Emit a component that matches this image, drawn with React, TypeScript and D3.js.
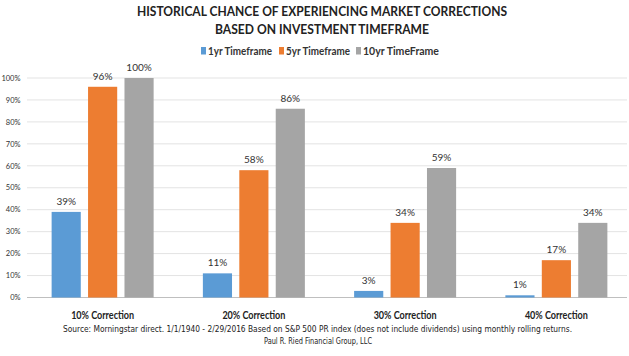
import React from "react";
import * as d3 from "d3";

const categories = ["10% Correction", "20% Correction", "30% Correction", "40% Correction"];
const seriesNames = ["1yr Timeframe", "5yr Timeframe", "10yr TimeFrame"];
const oneYear = [39, 11, 3, 1];
const fiveYear = [96, 58, 34, 17];
const tenYear = [100, 86, 59, 34];
const yTicks = [0, 10, 20, 30, 40, 50, 60, 70, 80, 90, 100];
const titleLines = ["HISTORICAL CHANCE OF EXPERIENCING MARKET CORRECTIONS", "BASED ON INVESTMENT TIMEFRAME"];
const footerLines = [
  "Source: Morningstar direct. 1/1/1940 - 2/29/2016 Based on S&P 500 PR index (does not include dividends) using monthly rolling returns.",
  "Paul R. Ried Financial Group, LLC",
];
const colors = ["#5B9BD5", "#ED7D31", "#A5A5A5"];

const W = 629;
const H = 356;
const FONT = "Lato, 'Open Sans', sans-serif";
const NARROW = "'Liberation Sans Narrow', 'DejaVu Sans Condensed', Lato, sans-serif";

export default function App() {
  const series = [oneYear, fiveYear, tenYear];
  const x0 = d3.scaleBand<string>().domain(categories).range([27, 632]).padding(0);
  const x1 = d3.scaleBand<number>().domain([0, 1, 2]).range([-51, 51]).paddingInner(0.2).paddingOuter(0);
  const y = d3.scaleLinear().domain([0, 100]).range([297.5, 78]);
  const gridLeft = 27;
  const gridRight = 627;

  const legendX = [201, 279, 356];
  const legendTextW = [64, 64, 76];

  return (
    <svg
      width={W}
      height={H}
      style={{ position: "absolute", left: 0, top: 0, background: "#fff" }}
      fontFamily={FONT}
    >
      <rect x={0} y={0} width={W} height={H} fill="#fff" />
      {/* Title */}
      <text x={322} y={16} textAnchor="middle" fontSize={12.5} fontWeight="bold" fill="#222" textLength={370} lengthAdjust="spacingAndGlyphs">
        {titleLines[0]}
      </text>
      <text x={322} y={33.5} textAnchor="middle" fontSize={12.5} fontWeight="bold" fill="#222" textLength={214} lengthAdjust="spacingAndGlyphs">
        {titleLines[1]}
      </text>
      {/* Legend */}
      {seriesNames.map((n, i) => (
        <g key={n}>
          <rect x={legendX[i]} y={47} width={5} height={7.5} fill={colors[i]} />
          <text x={legendX[i] + 7} y={55} fontSize={11} fontWeight="bold" fill="#333" textLength={legendTextW[i]} lengthAdjust="spacingAndGlyphs">
            {n}
          </text>
        </g>
      ))}
      {/* Gridlines & y ticks */}
      {yTicks.map((t) => (
        <g key={t}>
          <line x1={gridLeft} x2={gridRight} y1={y(t)} y2={y(t)} stroke={t === 0 ? "#bfbfbf" : "#e3e3e3"} strokeWidth={1} />
          <text x={20.5} y={y(t) + 2.7} textAnchor="end" fontSize={7.5} fill="#333">
            {t}%
          </text>
        </g>
      ))}
      {/* Bars */}
      {categories.map((c, ci) => {
        const cx = (x0(c) as number) + x0.bandwidth() / 2;
        return (
          <g key={c}>
            {series.map((s, si) => {
              const bx = cx + (x1(si) as number);
              const v = s[ci];
              return (
                <g key={si}>
                  <rect x={bx} y={y(v)} width={x1.bandwidth()} height={y(0) - y(v)} fill={colors[si]} />
                  <text x={bx + x1.bandwidth() / 2} y={y(v) - 7} textAnchor="middle" fontSize={10} fill="#333">
                    {v}%
                  </text>
                </g>
              );
            })}
            <text x={cx} y={318.5} textAnchor="middle" fontSize={10.5} fontWeight="bold" fill="#222" textLength={63} lengthAdjust="spacingAndGlyphs">
              {c}
            </text>
          </g>
        );
      })}
      {/* Footer */}
      <text x={317.5} y={331.5} textAnchor="middle" fontSize={9} fontFamily={NARROW} fill="#222" textLength={509} lengthAdjust="spacingAndGlyphs">
        {footerLines[0]}
      </text>
      <text x={318} y={344} textAnchor="middle" fontSize={9} fontFamily={NARROW} fill="#222" textLength={108} lengthAdjust="spacingAndGlyphs">
        {footerLines[1]}
      </text>
    </svg>
  );
}
